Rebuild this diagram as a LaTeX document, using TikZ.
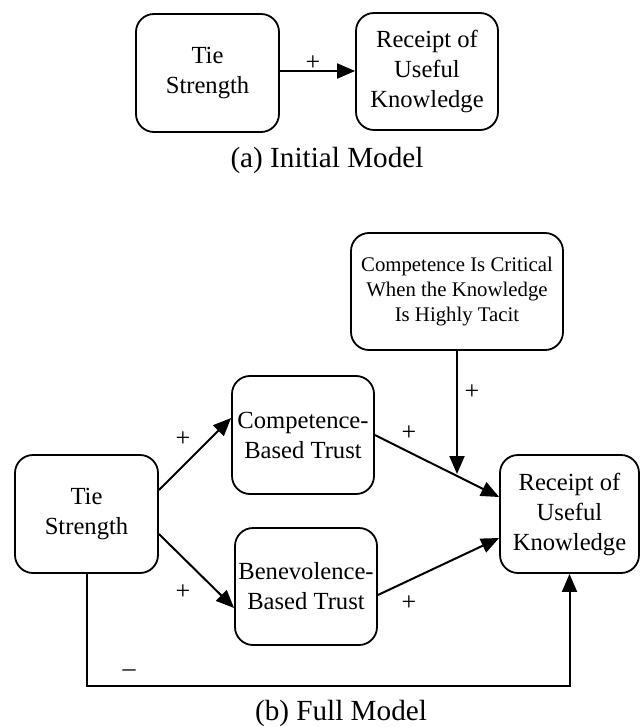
\documentclass[tikz,border=0pt]{standalone}
\usepackage{fontspec}
\setmainfont{Liberation Serif}
\usetikzlibrary{arrows.meta}
\begin{document}
\begin{tikzpicture}[x=0.5pt,y=-0.5pt,
  box/.style={draw, line width=0.9pt, rounded corners=9pt, align=center, inner sep=1pt,
    font=\fontsize{12.3}{15}\selectfont},
  arr/.style={line width=1pt, -{Triangle[length=9pt,width=7.5pt]}},
  lbl/.style={font=\fontsize{13}{14}\selectfont, inner sep=0pt},
  captext/.style={font=\fontsize{14.6}{17}\selectfont, inner sep=0pt}]
  \useasboundingbox (0,0) rectangle (640,727);
  % (a) initial model
  \node[box, minimum width=71.5pt, minimum height=59pt] (tieA) at (207.5,73) {Tie\\Strength};
  \node[box, minimum width=71pt, minimum height=58.5pt] (recA) at (427,71.5) {Receipt of\\Useful\\Knowledge};
  \draw[arr] ([yshift=1pt]tieA.east) -- ([yshift=0.25pt]recA.west);
  \node[lbl] (plusA) at (313,63) {+};
  \node[captext] (capA) at (327,160) {(a) Initial Model};
  % (b) full model
  \node[box, minimum width=106pt, minimum height=58.5pt, font=\fontsize{10.4}{12.5}\selectfont] (crit) at (457,291.5)
    {Competence Is Critical\\When the Knowledge\\Is Highly Tacit};
  \node[box, minimum width=71pt, minimum height=59pt] (comp) at (303,435) {Competence-\\Based Trust};
  \node[box, minimum width=71pt, minimum height=58.5pt] (bene) at (306,586.5) {Benevolence-\\Based Trust};
  \node[box, minimum width=71.5pt, minimum height=59pt] (tieB) at (86.5,514) {Tie\\Strength};
  \node[box, minimum width=69.5pt, minimum height=59pt] (recB) at (569.5,514) {Receipt of\\Useful\\Knowledge};
  \coordinate (critIn) at (457,474);
  \coordinate (low) at (87,686);
  \draw[arr] ([yshift=12pt]tieB.east) -- ([yshift=8.5pt]comp.west);
  \draw[arr] ([yshift=-10pt]tieB.east) -- ([yshift=-10.75pt]bene.west);
  \draw[arr] (comp.east) -- ([yshift=8.5pt]recB.west);
  \draw[arr] ([yshift=-4.25pt]bene.east) -- ([yshift=-12pt]recB.west);
  \draw[arr] (crit.south) -- (critIn);
  \draw[arr] (tieB.south) |- (recB.south |- low) -- (recB.south);
  \node[lbl] (plus1) at (183,439) {+};
  \node[lbl] (plus2) at (183,592) {+};
  \node[lbl] (plus3) at (409,433) {+};
  \node[lbl] (plus4) at (409,603) {+};
  \node[lbl] (plus5) at (472,392) {+};
  \node[lbl] (minus) at (129,673) {–};
  \node[captext] (capB) at (341,713) {(b) Full Model};
\end{tikzpicture}
\end{document}
